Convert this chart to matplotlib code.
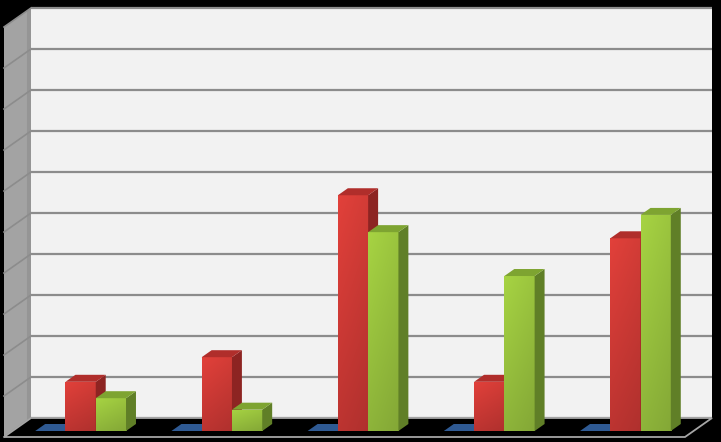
import numpy as np
import matplotlib
matplotlib.use("Agg")
import matplotlib.pyplot as plt
from matplotlib.patches import Polygon
from matplotlib.colors import to_rgb

# ---- data ----
categories = ["1", "2", "3", "4", "5"]
series_names = ["Series 1", "Series 2", "Series 3"]
blue_vals = [0, 0, 0, 0, 0]
red_vals = [1.2, 1.8, 5.75, 1.2, 4.7]
green_vals = [0.8, 0.52, 4.85, 3.78, 5.27]
y_max = 10

# ---- styles ----
front_top = ["#3563a3", "#d93e38", "#a0cb40"]
front_bot = ["#2a5188", "#b5322f", "#88ad38"]
top_col = ["#2f5a93", "#b02e2b", "#7ea431"]
side_col = ["#24456f", "#8d2422", "#607f27"]

W, H = 721, 442
fig = plt.figure(figsize=(W / 100, H / 100), dpi=100, facecolor="black")
ax = fig.add_axes([0, 0, 1, 1])
ax.set_facecolor("black")
ax.axis("off")

px_cat = 136.2   # pixels per category
px_val = 41.0    # pixels per value unit
x0_px, y0_px = 4, 437
ax.set_xlim(-x0_px / px_cat, (W - x0_px) / px_cat)
ax.set_ylim(-(H - y0_px) / px_val, y0_px / px_val)

DX = 27 / px_cat   # full depth offset (category units)
DY = 19 / px_val   # full depth offset (value units)
n = len(categories)

# back wall
ax.add_patch(Polygon([(DX, DY), (n + DX, DY), (n + DX, y_max + DY), (DX, y_max + DY)],
                     closed=True, facecolor="#f2f2f2", edgecolor="none", zorder=1))
# left wall
ax.add_patch(Polygon([(0, 0), (DX, DY), (DX, y_max + DY), (0, y_max)],
                     closed=True, facecolor="#a3a3a3", edgecolor="none", zorder=1))
ax.add_patch(Polygon([(DX * 0.85, DY * 0.85), (DX, DY), (DX, y_max + DY), (DX * 0.85, y_max + DY * 0.85)],
                     closed=True, facecolor="#959595", edgecolor="none", zorder=1))
# gridlines
for k in range(0, y_max + 1):
    ax.plot([DX, n + DX], [k + DY, k + DY], color="#8c8c8c", lw=1.6, zorder=2,
            solid_capstyle="butt")
    ax.plot([0, DX], [k, k + DY], color="#8c8c8c", lw=1.2, zorder=2)
# floor
ax.add_patch(Polygon([(0, 0), (n, 0), (n + DX, DY), (DX, DY)],
                     closed=True, facecolor="black", edgecolor="#a6a6a6", lw=1.3, zorder=3))

# bars
w = 1 / 4.5
zf, zb = 6 / 19, 13 / 19
ddx = (zb - zf) * DX
ddy = (zb - zf) * DY
all_vals = [blue_vals, red_vals, green_vals]

def grad_fill(patch, c1, c2, extent):
    c1 = np.array(to_rgb(c1)); c2 = np.array(to_rgb(c2))
    t = np.linspace(0, 1, 64)[:, None]
    img = (c2 * (1 - t) + c1 * t)[:, None, :]
    # slight horizontal shading
    hs = np.linspace(1.04, 0.97, 16)[None, :, None]
    img = np.clip(img * hs, 0, 1)
    im = ax.imshow(img, extent=extent, origin="lower", aspect="auto", zorder=patch.get_zorder(),
                   interpolation="bilinear")
    im.set_clip_path(patch)

zo = 4
for i in range(n):
    for j, vals in enumerate(all_vals):
        v = vals[i]
        left = i + 0.75 * w + j * w + zf * DX
        base = zf * DY
        # front face
        if v > 0:
            bc = ax.bar(left, v, width=w, bottom=base, align="edge",
                        color=front_bot[j], edgecolor="none", zorder=zo)
            p = bc.patches[0]
            grad_fill(p, front_top[j], front_bot[j], (left, left + w, base, base + v))
        # side face
        ax.add_patch(Polygon([(left + w, base), (left + w + ddx, base + ddy),
                              (left + w + ddx, base + v + ddy), (left + w, base + v)],
                             closed=True, facecolor=side_col[j], edgecolor="none", zorder=zo))
        # top face
        ax.add_patch(Polygon([(left, base + v), (left + w, base + v),
                              (left + w + ddx, base + v + ddy), (left + ddx, base + v + ddy)],
                             closed=True, facecolor=top_col[j], edgecolor="none", zorder=zo + 0.1))
        zo += 0.2

fig.savefig("out.png", dpi=100, facecolor="black")
